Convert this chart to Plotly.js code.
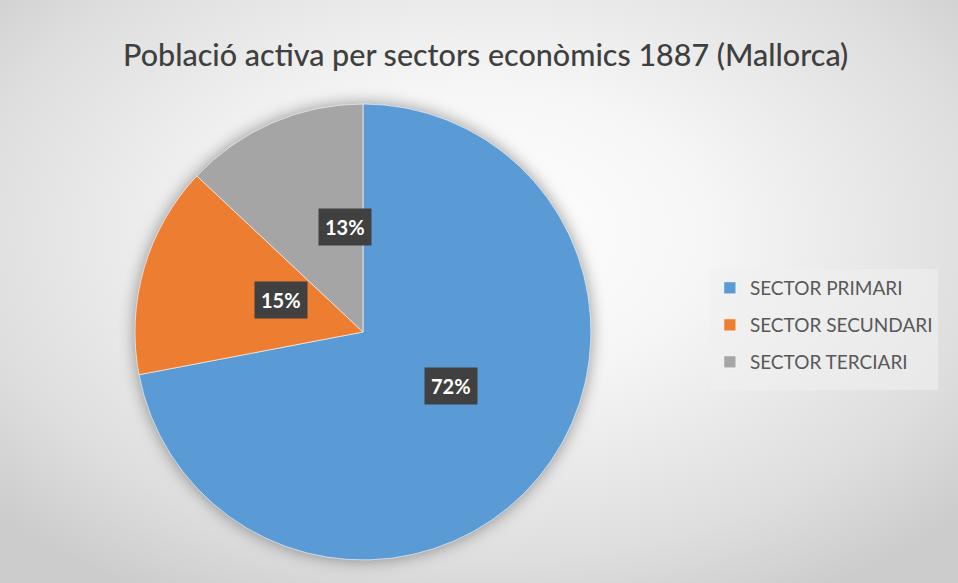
<!DOCTYPE html>
<html>
<head>
<meta charset="utf-8">
<script src="https://cdn.plot.ly/plotly-3.0.1.min.js"></script>
<style>
  html, body { margin: 0; padding: 0; }
  body {
    width: 958px; height: 583px; overflow: hidden;
    background: radial-gradient(ellipse 68% 72% at 50% 40%, #ffffff 0%, #f6f6f6 35%, #dedede 78%, #cccccc 100%);
  }
  #chart { width: 958px; height: 583px; }
  .pielayer { filter: drop-shadow(0px 0px 8px rgba(0,0,0,0.4)); }
</style>
</head>
<body>
<div id="chart"></div>
<script>
// Data
const categories = ["SECTOR PRIMARI", "SECTOR SECUNDARI", "SECTOR TERCIARI"];
const values = [72, 15, 13];
const colors = ["#5B9BD5", "#ED7D31", "#A5A5A5"];
const chartTitle = "Població activa per sectors econòmics 1887 (Mallorca)";

const W = 958, H = 583;
const domX = [0.1409, 0.6169];
const domY = [0.0395, 0.8216];

// label positions derived from the slice angles (clockwise from 12 o'clock)
const total = values.reduce((a, b) => a + b, 0);
const cxPx = (domX[0] + domX[1]) / 2 * W;
const cyPx = (domY[0] + domY[1]) / 2 * H;
const rPx = Math.min((domX[1] - domX[0]) * W, (domY[1] - domY[0]) * H) / 2;
let cum = 0;
const annotations = values.map((v) => {
  const mid = (cum + v / 2) / total * 2 * Math.PI;
  cum += v;
  const px = cxPx + 0.5 * rPx * Math.sin(mid);
  const py = cyPx + 0.5 * rPx * Math.cos(mid);
  return {
    x: px / W, y: py / H, xref: "paper", yref: "paper",
    text: "<b>" + Math.round(v / total * 100) + "%</b>",
    showarrow: false,
    bgcolor: "#404040",
    borderpad: 6,
    font: { family: "Lato, 'Open Sans', sans-serif", size: 20, color: "#ffffff" }
  };
});

const trace = {
  type: "pie",
  labels: categories,
  values: values,
  sort: false,
  direction: "clockwise",
  rotation: 0,
  marker: { colors: colors, line: { color: "rgba(255,255,255,0.6)", width: 1 } },
  textinfo: "none",
  hoverinfo: "label+percent",
  domain: { x: domX, y: domY }
};

const layout = {
  width: W, height: H,
  margin: { l: 0, r: 0, t: 0, b: 0 },
  paper_bgcolor: "rgba(0,0,0,0)",
  plot_bgcolor: "rgba(0,0,0,0)",
  title: {
    text: chartTitle,
    x: 0.507, xanchor: "center",
    y: 1 - 55 / H, yanchor: "middle",
    font: { family: "Lato, 'Open Sans', sans-serif", size: 30.5, color: "#3f3f3f", weight: 500 }
  },
  showlegend: true,
  legend: {
    x: 0.741, xanchor: "left",
    y: 1 - 269 / H, yanchor: "top",
    bgcolor: "rgba(240,240,240,0.6)",
    font: { family: "Lato, 'Open Sans', sans-serif", size: 19, color: "#595959" },
    traceorder: "normal"
  },
  annotations: annotations
};

Plotly.newPlot("chart", [trace], layout, { displayModeBar: false, staticPlot: true }).then((gd) => {
  // widen the vertical spacing between legend entries
  const gap = 37;
  const items = gd.querySelectorAll(".legend .traces");
  if (!items.length) return;
  const parse = (el) => {
    const m = /translate\(\s*([-\d.]+)[ ,]+([-\d.]+)\s*\)/.exec(el.getAttribute("transform") || "");
    return m ? [parseFloat(m[1]), parseFloat(m[2])] : [0, 0];
  };
  const first = parse(items[0]);
  const second = items.length > 1 ? parse(items[1]) : [0, first[1] + gap];
  const oldGap = second[1] - first[1];
  items.forEach((el, i) => {
    const t = parse(el);
    el.setAttribute("transform", "translate(" + t[0] + "," + (first[1] + i * gap) + ")");
  });
  const extra = (items.length - 1) * (gap - oldGap) + 8;
  const bg = gd.querySelector(".legend .bg");
  if (bg) bg.setAttribute("height", parseFloat(bg.getAttribute("height")) + extra);
  gd.querySelectorAll(".legend .scrollbox, .legend").forEach((el) => el.removeAttribute("clip-path"));
  gd.querySelectorAll("clipPath[id^='legend'] rect").forEach((r) => {
    r.setAttribute("height", parseFloat(r.getAttribute("height") || 0) + extra);
  });
});
</script>
</body>
</html>
